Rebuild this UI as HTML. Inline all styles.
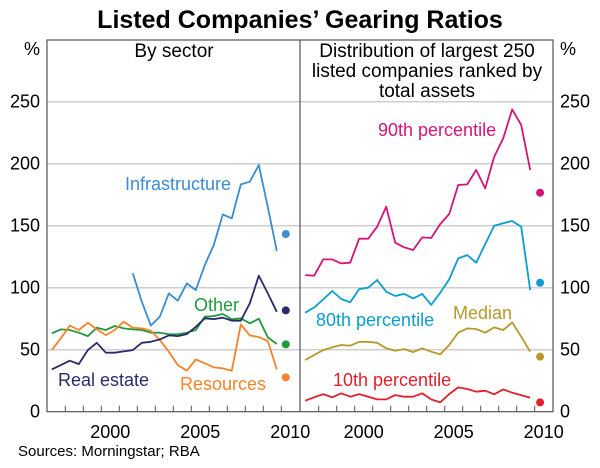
<!DOCTYPE html>
<html><head><meta charset="utf-8"><style>
body{margin:0;background:#fff;}
svg{display:block;font-family:"Liberation Sans",Arial,sans-serif;}
</style></head><body>
<svg id="chart" width="600" height="468" viewBox="0 0 600 468">
<text x="300" y="28" text-anchor="middle" font-size="25" font-weight="bold">Listed Companies’ Gearing Ratios</text>
<g id="grid"></g>
<g id="frame"></g>
<g id="series"></g>
<text x="40" y="55" text-anchor="end" font-size="18">%</text>
<text x="560" y="55" font-size="18">%</text>
<text x="174" y="57" text-anchor="middle" font-size="19">By sector</text>
<text text-anchor="middle" font-size="19"><tspan x="427" y="57">Distribution of largest 250</tspan><tspan x="427" y="77">listed companies ranked by</tspan><tspan x="427" y="97">total assets</tspan></text>
<text x="125" y="190" font-size="18" fill="#3a8dd0">Infrastructure</text>
<text x="194" y="311" font-size="18" fill="#1f9a3c">Other</text>
<text x="58" y="386" font-size="18" fill="#2b2a6c">Real estate</text>
<text x="180" y="390" font-size="18" fill="#f5832a">Resources</text>
<text x="378" y="136" font-size="18" fill="#d2157a">90th percentile</text>
<text x="316" y="326" font-size="18" fill="#0a9ed0">80th percentile</text>
<text x="453" y="319" font-size="18" fill="#b8982a">Median</text>
<text x="333" y="386" font-size="18" fill="#e0202a">10th percentile</text>
<text x="18" y="456" font-size="15">Sources: Morningstar; RBA</text>
</svg>
<script>
const yTicks=[0,50,100,150,200,250];
const xLabels=[2000,2005,2010];
const sectorStart=1997.25;
const infraStart=2001.75;
const infrastructure=[111.6,88.7,69.4,76.6,95.4,89.5,103.5,98.1,118.3,134.4,159.1,155.9,183.3,185.5,198.9,165,129.6];
const other=[63.2,66.4,65.9,63.7,61.0,67.7,65.9,69.1,67.2,66.4,65.9,63.7,63.7,62.4,62.4,63.7,65.9,76.6,77.1,78.8,74.5,75.3,71.2,75.0,59.9,54.6];
const resources=[49.7,59.1,69.4,65.9,71.8,66.4,61.8,65.9,72.6,67.7,67.2,65.3,57.8,48.4,37.6,33.1,42.2,39.0,35.8,34.9,33.1,70.4,61.5,60.2,57.0,34.1];
const realEstate=[34.1,37.6,41.1,38.4,49.7,55.6,47.6,47.6,48.6,49.7,55.6,56.4,58.3,61.5,61.0,62.6,68.5,75.3,74.7,75.8,73.4,73.4,87.4,109.7,95.4,80.6];
const p90=[110.2,109.7,122.8,122.8,119.6,120.2,139.5,139.5,149.2,165.3,136.3,132.6,130.4,140.6,140.1,151.3,159.4,182.8,183.3,194.9,180.1,205.6,220.4,243.8,231.2,194.9];
const p80=[79.8,84.1,90.6,97.3,90.9,88.2,98.9,100.0,106.2,96.8,93.3,95.0,91.4,95.0,86.1,95.9,106.7,123.6,126.3,120.2,135.2,150.0,151.9,153.8,149.2,98.1];
const median=[41.7,45.7,49.7,51.9,53.8,53.2,56.4,56.4,55.6,51.1,49.2,50.5,48.1,51.1,48.4,46.2,53.8,63.7,67.2,66.7,63.7,68.0,65.9,72.0,60.5,48.4];
const p10=[8.9,11.6,14.2,11.6,14.8,12.1,14.2,12.1,9.9,9.9,13.4,12.1,12.1,14.8,9.9,7.5,14.2,19.6,18.3,16.1,16.9,14.0,18.0,15.3,13.4,11.3];
const sectorLatest=[143.3,81.7,54.3,27.7];
const distLatest=[176.6,104,44.4,7.5];

const NS="http://www.w3.org/2000/svg";
const L=47,R=553,MID=300,TOP=40,BOT=411.7;
const y=v=>BOT-v*(BOT-101.7)/250;
const xL=t=>47.3+(t-1997)*18;
const xR=t=>300.7+(t-1997)*18;
function mk(tag,attrs,parent){const e=document.createElementNS(NS,tag);for(const k in attrs)e.setAttribute(k,attrs[k]);document.getElementById(parent).appendChild(e);return e;}
yTicks.forEach(v=>{
  if(v>0){const g=mk('line',{x1:L,x2:R,y1:y(v),y2:y(v),stroke:'#cfcfcf','stroke-width':1.5},'grid');
  
  }
  const a=mk('text',{x:40,y:y(v)+6,'text-anchor':'end','font-size':18},'grid');a.textContent=v;
  
  
  const b=mk('text',{x:560,y:y(v)+6,'font-size':18},'grid');b.textContent=v;
  
  
});
const fr=mk('rect',{x:L,y:TOP,width:R-L,height:BOT-TOP,fill:'none',stroke:'#555','stroke-width':1.2},'frame');


const dv=mk('line',{x1:MID,x2:MID,y1:TOP,y2:BOT,stroke:'#555','stroke-width':1.2},'frame');


for(let yr=1998;yr<=2010;yr++){
  [xL,xR].forEach((f,i)=>{const x=f(yr);if(x>(i?MID:L)&&x<(i?R:MID)){
    const t=mk('line',{x1:x,x2:x,y1:BOT,y2:BOT-6,stroke:'#555','stroke-width':1},'frame');
    
    }});
}
xLabels.forEach(yr=>{
  [xL,xR].forEach((f,i)=>{const t=mk('text',{x:f(yr+0.5),y:438,'text-anchor':'middle','font-size':18},'frame');t.textContent=yr;
  
  });
});
function line(vals,start,fx,color,name){
  const pts=vals.map((v,i)=>fx(start+i*0.5).toFixed(1)+','+y(v).toFixed(1)).join(' ');
  const p=mk('polyline',{points:pts,fill:'none',stroke:color,'stroke-width':1.8,'stroke-linejoin':'round'},'series');
  
  
}
function dot(v,fx,t,color,name){
  const c=mk('circle',{cx:fx(t),cy:y(v),r:4,fill:color},'series');
  
  
}
const sc=['#3a8dd0','#2b2a6c','#1f9a3c','#f5832a'];
line(other,sectorStart,xL,sc[2],'line-other');
line(resources,sectorStart,xL,sc[3],'line-resources');
line(realEstate,sectorStart,xL,sc[1],'line-real-estate');
line(infrastructure,infraStart,xL,sc[0],'line-infrastructure');
const dc=['#d2157a','#0a9ed0','#b8982a','#e0202a'];
line(p90,sectorStart,xR,dc[0],'line-90th-percentile');
line(p80,sectorStart,xR,dc[1],'line-80th-percentile');
line(median,sectorStart,xR,dc[2],'line-median');
line(p10,sectorStart,xR,dc[3],'line-10th-percentile');
const sn=['infrastructure','real-estate','other','resources'];
sectorLatest.forEach((v,i)=>dot(v,xL,2010.25,sc[i],'dot-latest-'+sn[i]));
const dn=['90th','80th','median','10th'];
distLatest.forEach((v,i)=>dot(v,xR,2010.3,dc[i],'dot-latest-'+dn[i]));
</script>
</body></html>
